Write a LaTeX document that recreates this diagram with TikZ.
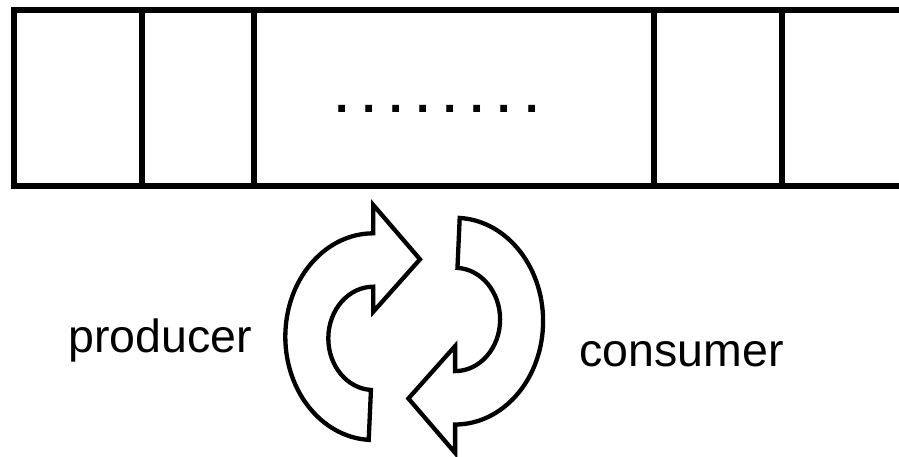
\documentclass[tikz,border=0pt]{standalone}
\usepackage{fontspec}
\setmainfont{Liberation Sans}
\begin{document}
\begin{tikzpicture}[x=1pt,y=-1pt,
  cellline/.style={line width=6pt, line join=miter, line cap=butt},
  cyclearrow/.style={line width=4.3pt, line join=miter, fill=white},
  lbl/.style={inner sep=0pt, font=\fontsize{46.5}{56}\selectfont}]
\useasboundingbox (0,0) rectangle (899,456);
% buffer
\draw[cellline] (899,10) -- (14,10) -- (14,185.7) -- (899,185.7);
\foreach \xx in {142,254,654,782}{
  \draw[cellline] (\xx,10) -- (\xx,185.7);
}
\def\dotgap{\hspace{13.8pt}}
\node[lbl, anchor=base, font=\fontsize{48}{56}\selectfont\bfseries] (dots) at (436.7,112.7) {.\dotgap.\dotgap.\dotgap.\dotgap.\dotgap.\dotgap.\dotgap.};
% cycle arrows
\def\cyclepath{(373.3,205) -- (420,259.3) -- (373.3,311.7) -- (373.3,286.7)
  arc[start angle=270, end angle=93, x radius=45, y radius=51.65]
  -- (368.7,439.86)
  arc[start angle=93, end angle=270, x radius=88, y radius=103.35]
  -- cycle}
\draw[cyclearrow] \cyclepath;
\draw[cyclearrow, rotate around={180:(414.2,328.9)}] \cyclepath;
\node[lbl, anchor=base] (producer) at (160,352) {producer};
\node[lbl, anchor=base] (consumer) at (681.5,366.7) {consumer};
\end{tikzpicture}
\end{document}
